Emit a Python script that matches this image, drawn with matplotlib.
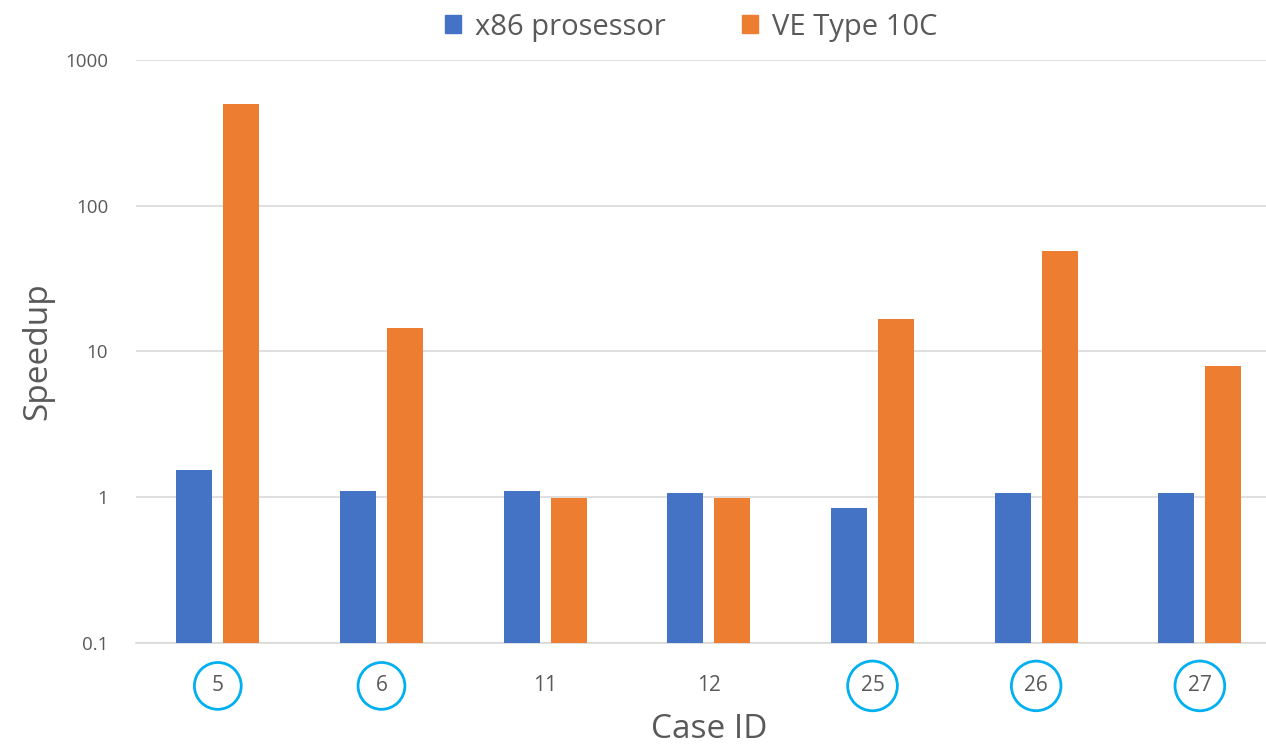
import matplotlib
matplotlib.use("Agg")
import matplotlib.pyplot as plt
import numpy as np
from matplotlib.patches import Patch

plt.rcParams['font.family'] = ['Open Sans', 'DejaVu Sans']

case_ids = ["5", "6", "11", "12", "25", "26", "27"]
highlighted = ["5", "6", "25", "26", "27"]
x86_speedup = [1.53, 1.10, 1.10, 1.06, 0.84, 1.06, 1.06]
ve_speedup = [500, 14.6, 0.99, 0.99, 16.6, 49, 8.0]
series_names = ["x86 prosessor", "VE Type 10C"]
y_ticks = [0.1, 1, 10, 100, 1000]
y_tick_labels = ["0.1", "1", "10", "100", "1000"]

blue = "#4472C4"
orange = "#ED7D31"
text_gray = "#595959"
grid_gray = "#D9D9D9"
ring = "#00B0F0"

fig = plt.figure(figsize=(12.66, 7.51), dpi=100)
# plot area runs slightly past the right edge of the canvas
ax = fig.add_axes([0.1074, 0.144, 0.905, 0.776])

x = np.arange(len(case_ids))
bw = 0.22
off = 0.144
ax.bar(x - off, x86_speedup, width=bw, color=blue, zorder=3)
ax.bar(x + off, ve_speedup, width=bw, color=orange, zorder=3)

ax.set_yscale("log")
ax.set_ylim(0.1, 1000)
ax.set_xlim(-0.5, len(case_ids) - 0.5)
ax.set_yticks(y_ticks)
ax.set_yticklabels(y_tick_labels)
ax.yaxis.set_minor_locator(matplotlib.ticker.NullLocator())
ax.grid(axis="y", color=grid_gray, linewidth=1.2, zorder=0)

for s in ["top", "right", "left"]:
    ax.spines[s].set_visible(False)
ax.spines["bottom"].set_color(grid_gray)
ax.spines["bottom"].set_linewidth(1.2)

ax.tick_params(axis="y", length=0, pad=20, labelsize=13.5, labelcolor=text_gray)
ax.tick_params(axis="x", length=0, pad=31, labelsize=15, labelcolor=text_gray)
ax.set_xticks(x)
ax.set_xticklabels(case_ids)
for lab in ax.get_xticklabels():
    lab.set_verticalalignment("center")
    if lab.get_text() in highlighted:
        lab.set_bbox(dict(boxstyle="circle,pad=0.62", fc="none", ec=ring, lw=2))

ax.set_ylabel("Speedup", fontsize=24, color=text_gray, labelpad=8)
ax.set_xlabel("Case ID", fontsize=24, color=text_gray, labelpad=12)

handles = [Patch(color=blue), Patch(color=orange)]
fig.legend(handles, series_names, loc="center", bbox_to_anchor=(0.546, 0.964),
           ncol=2, frameon=False, fontsize=21, labelcolor=text_gray,
           handlelength=0.55, handleheight=0.55, handletextpad=0.5, columnspacing=2.6)

fig.savefig("out.png", dpi=100)
